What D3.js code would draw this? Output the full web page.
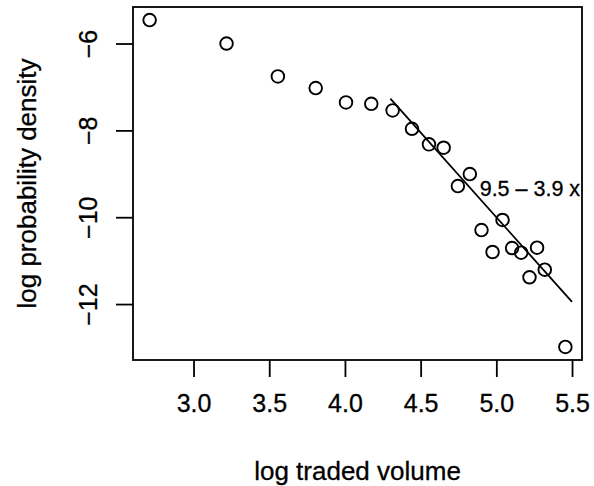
<!DOCTYPE html>
<html>
<head>
<meta charset="utf-8">
<script src="https://cdn.jsdelivr.net/npm/d3@7"></script>
<style>
  body { margin: 0; background: #fff; }
  text { font-family: "Liberation Sans", Arial, Helvetica, sans-serif; fill: #000; stroke: #000; stroke-width: 0.3px; }
</style>
</head>
<body>
<svg class="graph"></svg>
<script>
// observed points
const logVolume = [2.710, 3.218, 3.557, 3.807, 4.007, 4.174, 4.315, 4.443, 4.555, 4.652,
                   4.825, 4.746, 5.041, 4.902, 4.975, 5.104, 5.164, 5.269, 5.320, 5.219, 5.456];
const logDensity = [-5.46, -6.00, -6.757, -7.026, -7.356, -7.388, -7.540, -7.963, -8.322, -8.400,
                    -9.006, -9.282, -10.064, -10.295, -10.801, -10.709, -10.817, -10.702, -11.208, -11.383, -12.987];

// fitted line  9.5 - 3.9 x
const fitIntercept = 9.5;
const fitSlope = -3.9;
const fitFrom = [4.3, 5.5];
const fitLabel = "9.5 \u2013 3.9 x";

const xTicks = [3.0, 3.5, 4.0, 4.5, 5.0, 5.5];
const yTicks = [-6, -8, -10, -12];

const width = 594;
const height = 486;
const margin = { top: 7, right: 12, bottom: 126, left: 133 };

const svg = d3.select(".graph")
    .attr("width", width)
    .attr("height", height);

// R style 4% padding on the data range
const pad = ([a, b]) => [a - (b - a) * 0.04, b + (b - a) * 0.04];

const x = d3.scaleLinear()
    .domain(pad(d3.extent(logVolume)))
    .range([margin.left, width - margin.right]);

const y = d3.scaleLinear()
    .domain(pad(d3.extent(logDensity)))
    .range([height - margin.bottom, margin.top]);

const fmtY = d => d < 0 ? "\u2212" + Math.abs(d) : String(d);

// x axis
const xAxis = svg.append("g")
    .attr("transform", `translate(0, ${height - margin.bottom})`)
    .call(d3.axisBottom(x).tickValues(xTicks).tickFormat(d3.format(".1f")).tickSize(17).tickPadding(17));
xAxis.select(".domain").remove();
xAxis.selectAll("line").attr("stroke", "#000").attr("stroke-width", 1.8);
xAxis.selectAll("text").attr("font-size", 25).attr("font-family", null).attr("fill", "#000");

// y axis
const yAxis = svg.append("g")
    .attr("transform", `translate(${margin.left}, 0)`)
    .call(d3.axisLeft(y).tickValues(yTicks).tickFormat(fmtY).tickSize(17).tickPadding(0));
yAxis.select(".domain").remove();
yAxis.selectAll("line").attr("stroke", "#000").attr("stroke-width", 1.8);
yAxis.selectAll("text")
    .attr("font-size", 25)
    .attr("font-family", null)
    .attr("fill", "#000")
    .attr("x", null).attr("dy", null)
    .attr("text-anchor", "middle")
    .attr("transform", "translate(-36, 0) rotate(-90)");

// plot box
svg.append("rect")
    .attr("x", margin.left)
    .attr("y", margin.top)
    .attr("width", width - margin.left - margin.right)
    .attr("height", height - margin.top - margin.bottom)
    .attr("fill", "none")
    .attr("stroke", "#000")
    .attr("stroke-width", 1.8);

// fit line
const line = d3.line()
    .x(d => x(d))
    .y(d => y(fitIntercept + fitSlope * d));

svg.append("path")
    .attr("d", line(fitFrom))
    .attr("fill", "none")
    .attr("stroke", "#000")
    .attr("stroke-width", 1.8);

svg.append("text")
    .attr("x", x(4.89))
    .attr("y", y(-9.35) + 7)
    .attr("font-size", 21.5)
    .text(fitLabel);

// points
svg.append("g")
  .selectAll("circle")
  .data(logVolume)
  .enter()
  .append("circle")
    .attr("cx", d => x(d))
    .attr("cy", (d, i) => y(logDensity[i]))
    .attr("r", 6.3)
    .attr("fill", "none")
    .attr("stroke", "#000")
    .attr("stroke-width", 1.9);

// axis titles
svg.append("text")
    .attr("x", (margin.left + width - margin.right) / 2)
    .attr("y", 480)
    .attr("text-anchor", "middle")
    .attr("font-size", 26)
    .text("log traded volume");

svg.append("text")
    .attr("transform", `translate(36, ${(margin.top + height - margin.bottom) / 2}) rotate(-90)`)
    .attr("text-anchor", "middle")
    .attr("font-size", 26)
    .text("log probability density");
</script>
</body>
</html>
